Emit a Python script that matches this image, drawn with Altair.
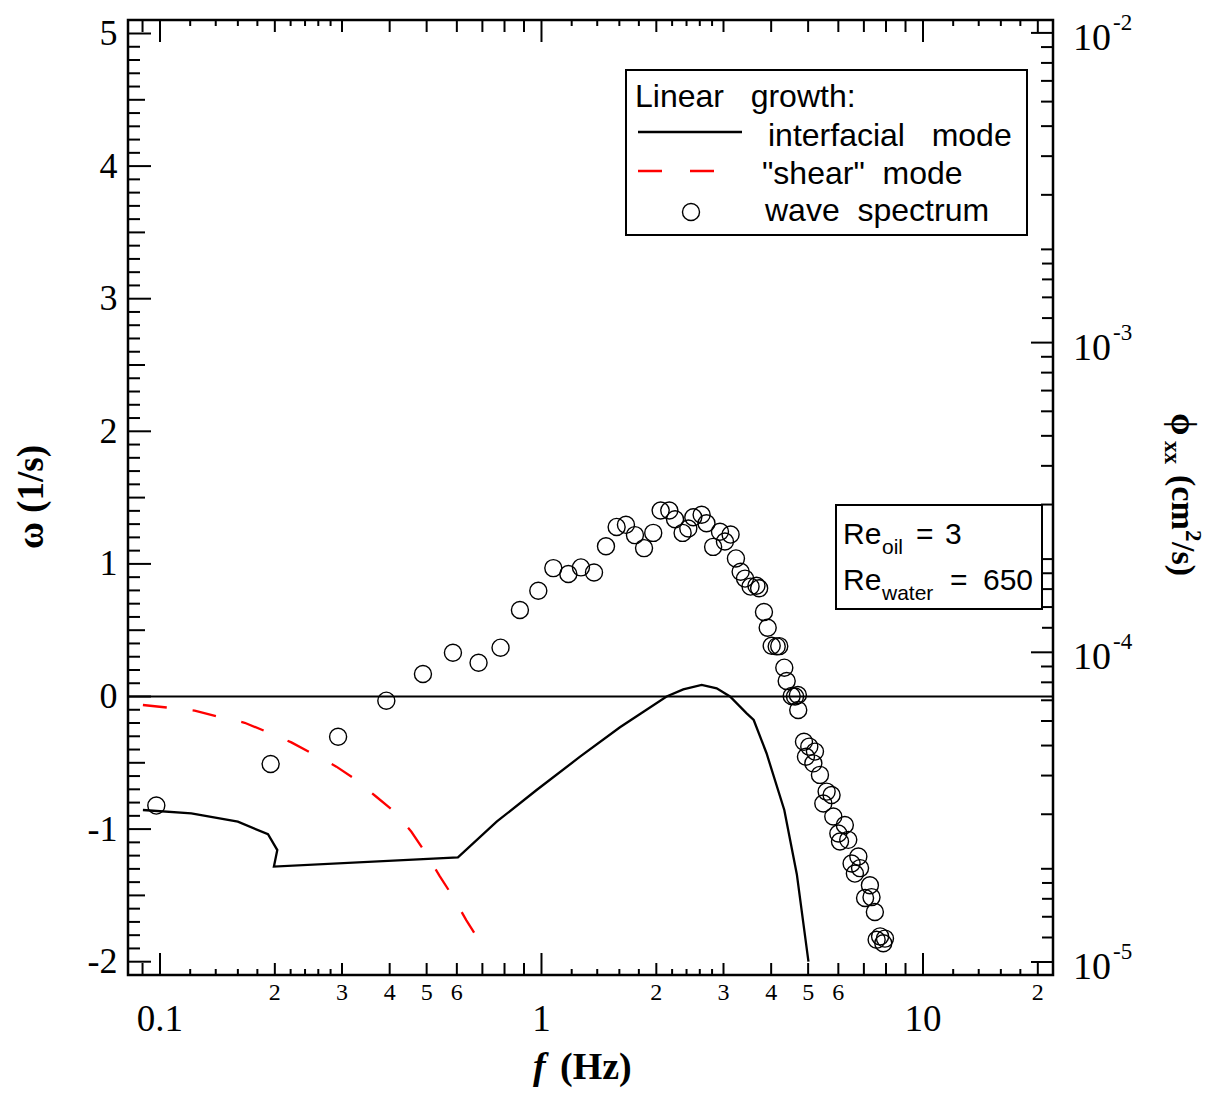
import altair as alt
import pandas as pd

# ---------------- data ----------------
# interfacial mode (linear growth rate, left axis)
int_f = [0.0902, 0.1208, 0.160, 0.1919, 0.2030, 0.1989, 0.604, 0.763, 0.971, 1.262,
         1.606, 2.128, 2.353, 2.63, 2.879, 3.12, 3.45, 3.6, 3.89, 4.33, 4.67, 5.01]
int_w = [-0.856, -0.881, -0.944, -1.039, -1.158, -1.283, -1.213, -0.944, -0.705, -0.454,
         -0.232, 0.0, 0.054, 0.087, 0.062, 0.0, -0.127, -0.177, -0.428, -0.856, -1.34, -2.0]

# "shear" mode (left axis)
shear_f = [0.0902, 0.1049, 0.1233, 0.142, 0.1667, 0.190, 0.221, 0.252, 0.290, 0.327,
           0.369, 0.412, 0.456, 0.497, 0.541, 0.586, 0.635, 0.689]
shear_w = [-0.064, -0.084, -0.107, -0.152, -0.198, -0.265, -0.346, -0.434, -0.529, -0.63,
           -0.756, -0.869, -1.02, -1.18, -1.354, -1.51, -1.686, -1.849]

# wave spectrum (right axis, cm^2/s)
spec_f = [0.0978, 0.195, 0.293, 0.392, 0.489, 0.586, 0.684, 0.781, 0.878, 0.981,
          1.074, 1.176, 1.269, 1.373, 1.476, 1.574, 1.665, 1.758, 1.857, 1.963,
          2.053, 2.163, 2.239, 2.344, 2.426, 2.50, 2.629, 2.707, 2.818, 2.937,
          3.026, 3.131, 3.234, 3.327, 3.416, 3.532, 3.66, 3.72, 3.83, 3.917,
          4.013, 4.136, 4.20, 4.33, 4.393, 4.527, 4.62, 4.70, 4.71, 4.876,
          4.935, 5.035, 5.16, 5.21, 5.37, 5.48, 5.59, 5.76, 5.82, 6.0,
          6.06, 6.24, 6.37, 6.5, 6.63, 6.77, 6.84, 7.05, 7.26, 7.33,
          7.48, 7.56, 7.72, 7.87, 7.95]
spec_phi = [3.20e-5, 4.36e-5, 5.34e-5, 6.98e-5, 8.51e-5, 9.97e-5, 9.25e-5, 1.035e-4, 1.37e-4, 1.58e-4,
            1.87e-4, 1.79e-4, 1.88e-4, 1.81e-4, 2.20e-4, 2.54e-4, 2.58e-4, 2.39e-4, 2.17e-4, 2.43e-4,
            2.87e-4, 2.87e-4, 2.69e-4, 2.43e-4, 2.51e-4, 2.73e-4, 2.78e-4, 2.61e-4, 2.19e-4, 2.45e-4,
            2.28e-4, 2.40e-4, 2.01e-4, 1.82e-4, 1.73e-4, 1.63e-4, 1.64e-4, 1.61e-4, 1.35e-4, 1.20e-4,
            1.05e-4, 1.045e-4, 1.047e-4, 8.92e-5, 8.08e-5, 7.23e-5, 7.20e-5, 7.28e-5, 6.51e-5, 5.14e-5,
            4.60e-5, 4.96e-5, 4.38e-5, 4.78e-5, 4.02e-5, 3.25e-5, 3.55e-5, 3.46e-5, 2.95e-5, 2.60e-5,
            2.45e-5, 2.77e-5, 2.48e-5, 2.08e-5, 1.93e-5, 2.19e-5, 2.01e-5, 1.61e-5, 1.77e-5, 1.62e-5,
            1.45e-5, 1.18e-5, 1.21e-5, 1.15e-5, 1.19e-5]

# axis tick values / labels
w_major = [-2, -1, 0, 1, 2, 3, 4, 5]
w_half = [-1.5, -0.5, 0.5, 1.5, 2.5, 3.5, 4.5]
w_minor = [round(-2 + 0.1 * k, 1) for k in range(71)]
w_minor = [v for v in w_minor if abs(v * 2 - round(v * 2)) > 1e-6]

x_major = [0.1, 1, 10]
x_mid = [0.09, 0.2, 0.3, 0.4, 0.5, 0.6, 0.7, 0.8, 0.9, 2, 3, 4, 5, 6, 7, 8, 9, 20]
x_small = [0.12, 0.14, 0.16, 0.18, 0.22, 0.24, 0.26, 0.28,
           1.2, 1.4, 1.6, 1.8, 2.2, 2.4, 2.6, 2.8, 12, 14, 16, 18]
x_major_lab = ["0.1", "1", "10"]
x_minor_vals = [0.2, 0.3, 0.4, 0.5, 0.6, 2, 3, 4, 5, 6, 20]
x_minor_lab = ["2", "3", "4", "5", "6", "2", "3", "4", "5", "6", "2"]

p_major = [1e-5, 1e-4, 1e-3, 1e-2]
p_major_sup = ["-5", "-4", "-3", "-2"]
p_mid = [m * d for d in [1e-5, 1e-4, 1e-3] for m in [2, 3, 4, 5, 6, 7, 8, 9]]
p_small = [m * d for d in [1e-5, 1e-4, 1e-3] for m in [1.2, 1.4, 1.6, 1.8]]

# ---------------- layout ----------------
W, H = 925, 955
OX, OY = 128, 20  # page position of plot origin
SERIF = "Liberation Serif"
SANS = "Liberation Sans"

xs = alt.Scale(type="log", domain=[0.08244, 21.92], nice=False)
ws = alt.Scale(type="linear", domain=[-2.1003, 5.1018], nice=False, zero=False)
ps = alt.Scale(type="log", domain=[9.08e-6, 1.1007e-2], nice=False)

yaxis = alt.Axis(values=w_major, ticks=False, domain=False, grid=False, tickSize=0,
                 labelFont=SERIF, labelFontSize=36, labelColor="black", labelPadding=11,
                 title=None, labelExpr="replace(datum.label, '\u2212', '-')")


def X(field):
    return alt.X(field, scale=xs, axis=None)


def txt(px, py, s, size, font=SANS, weight="normal", style="normal", angle=0,
        align="left", baseline="alphabetic", dx=0, dy=0):
    return alt.Chart(pd.DataFrame({"t": [s]})).mark_text(
        align=align, baseline=baseline, font=font, fontSize=size, fontWeight=weight,
        fontStyle=style, angle=angle, color="black", dx=dx, dy=dy
    ).encode(x=alt.value(px - OX), y=alt.value(py - OY), text="t:N")


# ---------------- omega (left axis) group ----------------
zero = alt.Chart(pd.DataFrame({"z": [0]})).mark_rule(color="black", strokeWidth=2).encode(
    y=alt.Y("z:Q", scale=ws, axis=yaxis))

df_int = pd.DataFrame({"f": int_f, "w": int_w, "i": list(range(len(int_f)))})
line_int = alt.Chart(df_int).mark_line(color="black", strokeWidth=2.3).encode(
    x=X("f:Q"), y=alt.Y("w:Q", scale=ws, axis=yaxis), order="i:Q")

df_sh = pd.DataFrame({"f": shear_f, "w": shear_w, "i": list(range(len(shear_f)))})
line_sh = alt.Chart(df_sh).mark_line(color="#ff0000", strokeWidth=2.3, strokeDash=[24, 26]).encode(
    x=X("f:Q"), y=alt.Y("w:Q", scale=ws, axis=yaxis), order="i:Q")


def wticks(vals, ln):
    return alt.Chart(pd.DataFrame({"v": vals})).mark_rule(color="black", strokeWidth=2).encode(
        y=alt.Y("v:Q", scale=ws, axis=yaxis), x=alt.value(0), x2=alt.value(ln))


def xticks(vals, ln, top):
    y1, y2 = (0, ln) if top else (H, H - ln)
    return alt.Chart(pd.DataFrame({"v": vals})).mark_rule(color="black", strokeWidth=2).encode(
        x=X("v:Q"), y=alt.value(y1), y2=alt.value(y2))


omega_layers = [zero, line_int, line_sh,
                wticks(w_major, 23), wticks(w_half, 17), wticks(w_minor, 12)]
for top in (False, True):
    omega_layers += [xticks(x_major, 22, top), xticks(x_mid, 12, top), xticks(x_small, 6, top)]

# x tick labels
omega_layers.append(alt.Chart(pd.DataFrame({"v": x_major, "t": x_major_lab})).mark_text(
    align="center", baseline="alphabetic", font=SERIF, fontSize=37, color="black").encode(
    x=X("v:Q"), y=alt.value(1031 - OY), text="t:N"))
omega_layers.append(alt.Chart(pd.DataFrame({"v": x_minor_vals, "t": x_minor_lab})).mark_text(
    align="center", baseline="alphabetic", font=SERIF, fontSize=24, color="black").encode(
    x=X("v:Q"), y=alt.value(1000 - OY), text="t:N"))

# legend box
omega_layers.append(alt.Chart(pd.DataFrame({"a": [0]})).mark_rect(
    fill="white", stroke="black", strokeWidth=2).encode(
    x=alt.value(626 - OX), x2=alt.value(1027 - OX), y=alt.value(70 - OY), y2=alt.value(235 - OY)))
omega_layers.append(alt.Chart(pd.DataFrame({"a": [0]})).mark_rule(color="black", strokeWidth=2.3).encode(
    x=alt.value(638 - OX), x2=alt.value(742 - OX), y=alt.value(132 - OY)))
omega_layers.append(alt.Chart(pd.DataFrame({"a": [0]})).mark_rule(
    color="#ff0000", strokeWidth=2.3, strokeDash=[24, 28]).encode(
    x=alt.value(638 - OX), x2=alt.value(715 - OX), y=alt.value(171 - OY)))
omega_layers.append(alt.Chart(pd.DataFrame({"a": [0]})).mark_point(
    shape="circle", filled=False, color="black", size=290, strokeWidth=1.4, opacity=1).encode(
    x=alt.value(691 - OX), y=alt.value(212 - OY)))
NB = "\u00a0"
omega_layers += [
    txt(635, 107, "Linear" + NB * 3 + "growth:", 32),
    txt(768, 146, "interfacial" + NB * 3 + "mode", 32),
    txt(762, 184, "\"shear\"" + NB * 2 + "mode", 32),
    txt(765, 221, "wave" + NB * 2 + "spectrum", 32),
]

# Re box
omega_layers.append(alt.Chart(pd.DataFrame({"a": [0]})).mark_rect(
    fill="white", stroke="black", strokeWidth=2).encode(
    x=alt.value(836 - OX), x2=alt.value(1042 - OX), y=alt.value(505 - OY), y2=alt.value(609 - OY)))
omega_layers += [
    txt(843, 544, "Re", 30), txt(882, 554, "oil", 21), txt(916, 544, "=", 30), txt(945, 544, "3", 30),
    txt(843, 590, "Re", 30), txt(882, 600, "water", 21), txt(950, 590, "=", 30), txt(983, 590, "650", 30),
]

# axis titles
omega_layers += [
    txt(32, 497, "\u03c9" + NB + "(1/s)", 37, font=SERIF, weight="bold", angle=270, align="center", baseline="middle"),
    txt(533, 1079, "f", 38, font=SERIF, weight="bold", style="italic"),
    txt(560, 1079, "(Hz)", 38, font=SERIF, weight="bold"),
]
# right title, rotated 90 (reading downward)
RX, RY = 1172, 413
omega_layers += [
    txt(RX, RY, "\u03d5", 36, font=SERIF, weight="bold", angle=90),
    txt(RX, RY, "xx", 23, font=SERIF, weight="bold", angle=90, dx=28, dy=7),
    txt(RX, RY, "(cm", 34, font=SERIF, weight="bold", angle=90, dx=62),
    txt(RX, RY, "2", 23, font=SERIF, weight="bold", angle=90, dx=117, dy=-14),
    txt(RX, RY, "/s)", 34, font=SERIF, weight="bold", angle=90, dx=129),
]

omega = alt.layer(*omega_layers)

# ---------------- phi (right axis) group ----------------
df_sp = pd.DataFrame({"f": spec_f, "p": spec_phi})
circles = alt.Chart(df_sp).mark_point(shape="circle", filled=False, color="black", size=290,
                                      strokeWidth=1.4, opacity=1).encode(
    x=X("f:Q"), y=alt.Y("p:Q", scale=ps, axis=None))


def pticks(vals, ln):
    return alt.Chart(pd.DataFrame({"v": vals})).mark_rule(color="black", strokeWidth=2).encode(
        y=alt.Y("v:Q", scale=ps, axis=None), x=alt.value(W - ln), x2=alt.value(W))


plab10 = alt.Chart(pd.DataFrame({"v": p_major, "t": ["10"] * 4})).mark_text(
    align="left", baseline="alphabetic", font=SERIF, fontSize=38, color="black", dy=17).encode(
    y=alt.Y("v:Q", scale=ps, axis=None), x=alt.value(1073 - OX), text="t:N")
plabsup = alt.Chart(pd.DataFrame({"v": p_major, "t": p_major_sup})).mark_text(
    align="left", baseline="alphabetic", font=SERIF, fontSize=23, color="black", dy=-3).encode(
    y=alt.Y("v:Q", scale=ps, axis=None), x=alt.value(1113 - OX), text="t:N")

phi = alt.layer(circles, pticks(p_major, 22), pticks(p_mid, 12), pticks(p_small, 11), plab10, plabsup)

chart = alt.layer(omega, phi).resolve_scale(y="independent").properties(
    width=W, height=H,
    autosize=alt.AutoSizeParams(type="none"),
    padding={"left": OX - 8, "top": OY - 8, "right": 1224 - 16 - (OX - 8) - W, "bottom": 1096 - 16 - (OY - 8) - H},
).configure_view(stroke="black", strokeWidth=2.5)

chart.save("out.html", embed_options={"renderer": "svg", "actions": False})
